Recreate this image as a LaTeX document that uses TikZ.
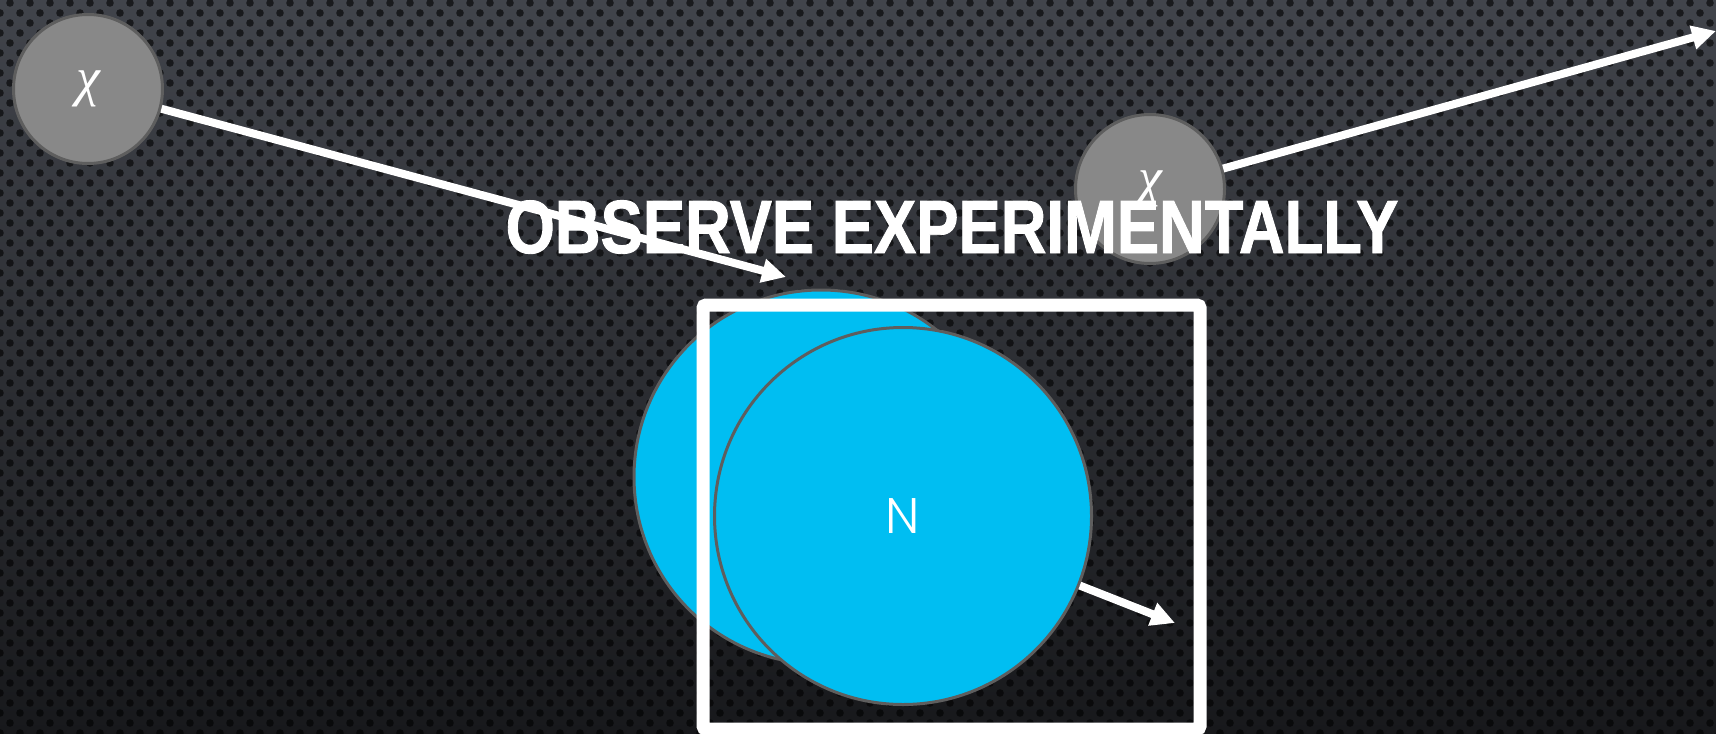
\documentclass[tikz,border=0pt]{standalone}
\usepackage{fontspec}
\usetikzlibrary{arrows.meta,patterns.meta}
\newfontfamily\titlefont{Liberation Sans Bold}[FakeStretch=0.84,FakeBold=1.2]
\newfontfamily\nfont{Poppins Light}
\newfontfamily\chifont{Liberation Serif Italic}
\definecolor{bgtop}{HTML}{41444B}
\definecolor{bgbot}{HTML}{17181B}
\definecolor{cgray}{HTML}{5E5E5E}
\definecolor{cfill}{HTML}{888888}
\definecolor{ccyan}{HTML}{00BEF2}
\begin{document}
\begin{tikzpicture}[x=0.5pt,y=-0.5pt,
  smallc/.style={circle,draw=cgray,line width=1.5pt,fill=cfill,minimum size=74.5pt,inner sep=0pt,text=white,font=\chifont\fontsize{27}{27}\selectfont},
  bigc/.style={circle,draw=cgray,line width=1.5pt,fill=ccyan,minimum size=187pt,inner sep=0pt,text=white},
  arr/.style={draw=white,line width=4pt,-{Triangle[length=12pt,width=11.5pt]}}]
\fill[top color=bgtop,bottom color=bgbot] (0,0) rectangle (1716,733);
\fill[pattern={Dots[distance=10pt,radius=1.9pt]},pattern color=black,opacity=0.6] (0,0) rectangle (1716,733);
\fill[pattern={Dots[distance=10pt,radius=1.9pt,xshift=5pt,yshift=5pt]},pattern color=black,opacity=0.6] (0,0) rectangle (1716,733);
\useasboundingbox (0,0) rectangle (1716,733);
\node[smallc] (c1) at (88,89) {χ};
\node[smallc] (c2) at (1150,189) {χ};
\coordinate (t1) at (786,277);
\coordinate (t2) at (1716,31);
\draw[arr] (c1) -- (t1);
\draw[arr] (c2) -- (t2);
\node[anchor=base,text=white,font=\titlefont\fontsize{37.7}{40}\selectfont] (title) at (952,253) {OBSERVE EXPERIMENTALLY};
\node[bigc] (back) at (821,477) {};
\node[draw=white,line width=6.5pt,rounded corners=1.5pt,minimum width=248.5pt,minimum height=212pt,inner sep=0pt] (frame) at (951.5,517) {};
\node[bigc,minimum size=188.5pt,font=\nfont\fontsize{25}{25}\selectfont] (front) at (903,516) {N};
\coordinate (t3) at (1175,623);
\draw[arr] (front) -- (t3);
\end{tikzpicture}
\end{document}
